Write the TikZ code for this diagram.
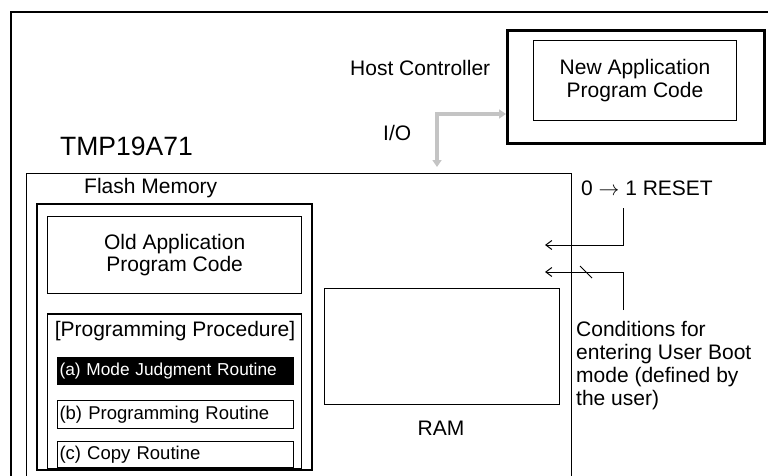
\documentclass[tikz,border=0pt]{standalone}
\usepackage{fontspec}
\setmainfont{Liberation Sans}
\usetikzlibrary{arrows.meta,positioning,calc}
\definecolor{ioGray}{HTML}{C4C4C4}
\newcommand{\mainFont}{\fontsize{21}{22.7}\selectfont}
\newcommand{\routineFont}{\fontsize{18.5}{21}\selectfont}
\tikzset{
  panelBox/.style={draw, anchor=north west, inner sep=0pt},
  routineBox/.style={draw, line width=1pt, anchor=north west, minimum width=236pt, minimum height=28pt,
    text width=232pt, inner xsep=1.5pt, inner ysep=0pt, align=left, font=\routineFont},
  sigArrow/.style={-{Straight Barb[length=6pt, width=9pt]}, line width=1pt},
  ioArrow/.style={{Triangle[length=7pt, width=9pt]}-{Triangle[length=7pt, width=9pt]}, draw=ioGray, line width=3.6pt},
  mainLabel/.style={font=\mainFont, align=left, inner sep=0pt}
}

\begin{document}
\begin{tikzpicture}[x=1pt, y=-1pt, node distance=15pt, >=Stealth]
  \clip (0,0) rectangle (768,476);
  % board, host side
  \node[panelBox, line width=1.6pt, minimum width=790pt, minimum height=500pt] (board) at (10,11) {};
  \node[panelBox, line width=2.6pt, minimum width=257pt, minimum height=113pt] (host) at (506,29) {};
  \node[panelBox, line width=1pt, minimum width=203pt, minimum height=80pt, font=\mainFont, align=center] (newCode) at (533,40) {New Application\\Program Code};
  \node[mainLabel, anchor=base west] (hostLabel) at (350,76) {Host Controller};
  \node[mainLabel, anchor=base west] (ioLabel) at (383,140) {I/O};
  % target chip
  \node[mainLabel, anchor=base west, font=\fontsize{26.5}{28}\selectfont] (chipLabel) at (60,155) {TMP19A71};
  \node[panelBox, line width=1pt, minimum width=545pt, minimum height=400pt] (chip) at (26,173) {};
  \node[mainLabel, anchor=base west] (flashLabel) at (84,193) {Flash Memory};
  \node[panelBox, line width=2pt, minimum width=275pt, minimum height=266pt] (flash) at (36,203) {};
  \node[panelBox, line width=1.3pt, minimum width=254pt, minimum height=77pt, font=\mainFont, align=center] (oldCode) at (47,216) {Old Application\\Program Code};
  \node[panelBox, line width=1.3pt, minimum width=254pt, minimum height=155pt, below=19pt of oldCode] (proc) {};
  \node[mainLabel, anchor=base] (procLabel) at (175,336) {[Programming Procedure]};
  \node[routineBox, fill=black, text=white, minimum height=27pt, font=\fontsize{17.3}{20}\selectfont] (judge) at (57,357) {(a) Mode Judgment Routine};
  \node[routineBox, below=of judge] (prog) {(b) Programming Routine};
  \node[routineBox, below=12pt of prog, minimum height=26pt] (copy) {(c) Copy Routine};
  \node[panelBox, line width=1.3pt, minimum width=235pt, minimum height=116pt] (ram) at (324,288) {};
  \node[mainLabel, anchor=base] (ramLabel) at (441,435) {RAM};
  % signals
  \node[mainLabel, anchor=base west] (resetLabel) at (581,195) {0 $\rightarrow$ 1 RESET};
  \node[mainLabel, anchor=base west] (condLabel) at (576,405) {Conditions for\\entering User Boot\\mode (defined by\\the user)};
  \coordinate (ioBend) at (437,114);
  \coordinate (resetTop) at (623,208);
  \coordinate (resetEnd) at (545,245);
  \coordinate (condBottom) at (623,310);
  \coordinate (condEnd) at (545,272);
  \draw[ioArrow, shorten >=6pt] (ioBend -| host.west) -- (ioBend) -- (ioBend |- chip.north);
  \draw[sigArrow] (resetTop) |- (resetEnd);
  \draw[sigArrow] (condBottom) |- (condEnd);
  \draw[line width=1pt] (580,266) -- (592,278);
\end{tikzpicture}
\end{document}
